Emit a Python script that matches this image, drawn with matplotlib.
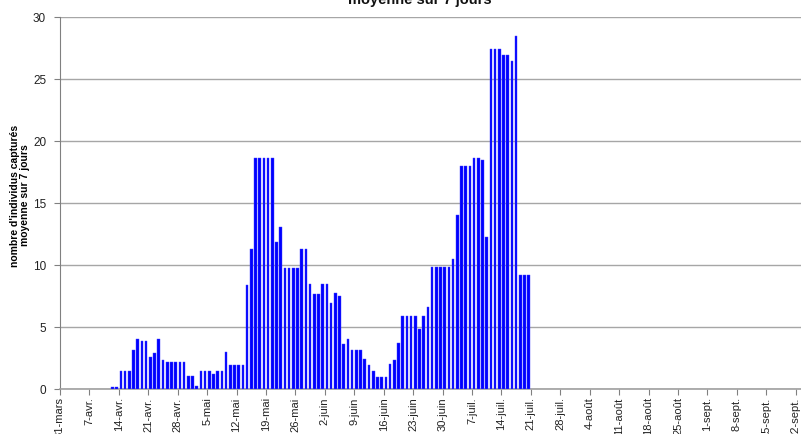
import matplotlib
matplotlib.use("Agg")
import matplotlib.pyplot as plt
import numpy as np

plt.rcParams['font.family'] = ['Liberation Sans', 'DejaVu Sans']

# day index 0 = 31-mars
tick_labels = ["31-mars", "7-avr.", "14-avr.", "21-avr.", "28-avr.", "5-mai", "12-mai",
               "19-mai", "26-mai", "2-juin", "9-juin", "16-juin", "23-juin", "30-juin",
               "7-juil.", "14-juil.", "21-juil.", "28-juil.", "4-août", "11-août",
               "18-août", "25-août", "1-sept.", "8-sept.", "15-sept.", "22-sept."]

start_day = 12  # 12-avr.
values = [
    # avril 12-30
    0.13, 0.13, 1.48, 1.48, 1.48, 3.15, 4.03, 3.9, 3.9, 2.6, 2.88, 4.03, 2.3,
    2.18, 2.18, 2.18, 2.18, 2.18, 1.02,
    # mai 1-31
    1.02, 0.27, 1.48, 1.48, 1.48, 1.2, 1.48, 1.48, 3.0, 1.9, 1.9, 1.9, 1.9,
    8.36, 11.3, 18.6, 18.6, 18.6, 18.6, 18.6, 11.88, 13.04, 9.78, 9.78, 9.78,
    9.78, 11.3, 11.3, 8.47, 7.63, 7.63,
    # juin 1-30
    8.47, 8.47, 6.9, 7.74, 7.5, 3.6, 4.06, 3.15, 3.15, 3.15, 2.45, 1.9, 1.45,
    1.0, 1.0, 1.0, 2.04, 2.31, 3.74, 5.86, 5.86, 5.86, 5.86, 4.87, 5.86, 6.59,
    9.87, 9.87, 9.87, 9.87,
    # juillet 1-20
    9.87, 10.46, 14.03, 18.0, 18.0, 18.0, 18.6, 18.6, 18.44, 12.28, 27.45,
    27.45, 27.45, 26.9, 26.9, 26.45, 28.47, 9.19, 9.19, 9.19,
]

days = start_day + np.arange(len(values))

W, H = 801, 434
fig = plt.figure(figsize=(W / 100, H / 100), dpi=100)
ax = fig.add_axes([60 / W, (H - 389) / H, (W - 60) / W, 372 / H])

ax.bar(days + 0.5, values, width=0.62, color="#0000ff", edgecolor="#4040ff",
       linewidth=0.3, zorder=3)

px_per_day = 4.204
ax.set_xlim(0, (W - 60) / px_per_day)
ax.set_ylim(0, 30)

ax.set_xticks(np.arange(len(tick_labels)) * 7)
ax.set_xticklabels(tick_labels, rotation=90, fontsize=8, color="#222222")
ax.set_yticks(np.arange(0, 31, 5))
ax.set_yticklabels([str(v) for v in range(0, 31, 5)], fontsize=8.5, color="#222222")

ax.yaxis.grid(True, color="#a6a6a6", linewidth=1.0, zorder=0)
ax.set_axisbelow(True)
for s in ["top", "right"]:
    ax.spines[s].set_visible(False)
ax.spines["left"].set_color("#808080")
ax.spines["bottom"].set_color("#a0a0a0")
ax.spines["bottom"].set_linewidth(1.2)
ax.tick_params(axis="x", length=4, color="#808080", pad=2)
ax.tick_params(axis="y", length=4, color="#808080", pad=6)

ax.set_ylabel("nombre d'individus capturés\nmoyenne sur 7 jours", fontsize=7.5,
              fontweight="bold", linespacing=1.1)
ax.yaxis.set_label_coords(-0.04, 0.52)

fig.text(420 / W, 1 - 4 / H, "moyenne sur 7 jours", ha="center", va="baseline",
         fontsize=10.5, fontweight="bold", color="#111111")

fig.savefig("out.png", dpi=100)
